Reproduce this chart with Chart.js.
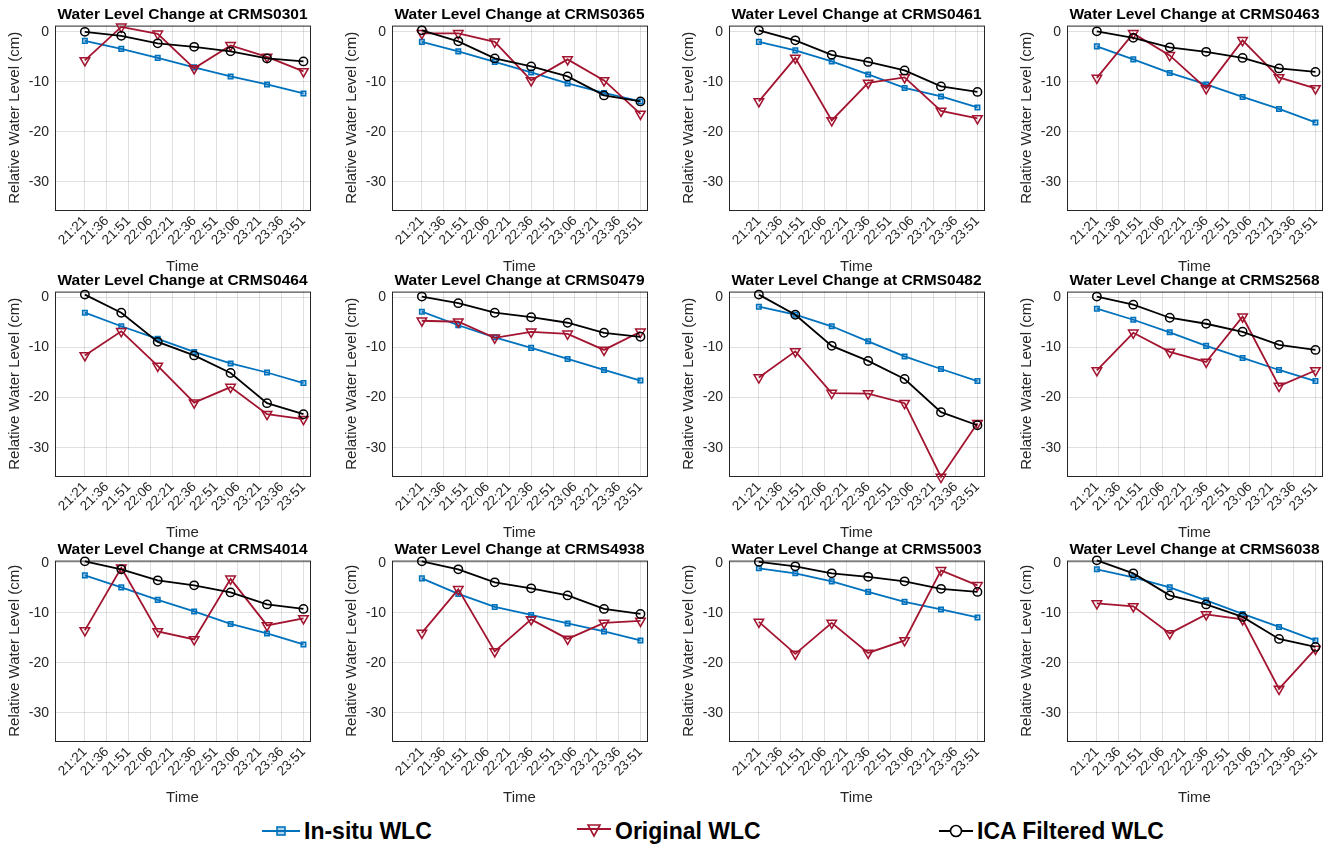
<!DOCTYPE html>
<html lang="en">
<head>
<meta charset="UTF-8">
<title>Water Level Change at CRMS stations</title>
<script src="https://cdn.jsdelivr.net/npm/chart.js@4.4.0/dist/chart.umd.min.js"></script>
<style>
    body { margin: 0; background: #fff; font-family: "Liberation Sans", Arial, sans-serif; }
    #page { position: relative; width: 1329px; height: 848px; overflow: hidden; background: #fff; }
    .panel { position: absolute; }
    .item { position: absolute; top: 815px; height: 32px; display: flex; align-items: center;
            font-weight: bold; font-size: 23px; color: #000; }
    .item svg { margin-right: 3px; }
</style>
</head>
<body>
<div id="page">
    <div class="item" style="left:261px">
        <svg width="40" height="20"><line x1="1" y1="10" x2="39" y2="10" stroke="#0072BD" stroke-width="2"/><rect x="16" y="6" width="8" height="8" fill="rgba(0,114,189,0.3)" stroke="#0072BD" stroke-width="1.6"/></svg>In-situ WLC
    </div>
    <div class="item" style="left:576px">
        <svg width="36" height="20"><line x1="1" y1="8" x2="35" y2="8" stroke="#A2142F" stroke-width="2"/><polygon points="12,4 24,4 18,15" fill="none" stroke="#A2142F" stroke-width="1.6"/></svg>Original WLC
    </div>
    <div class="item" style="left:938px">
        <svg width="36" height="20"><line x1="1" y1="10" x2="35" y2="10" stroke="#000" stroke-width="2"/><circle cx="18" cy="10" r="5.5" fill="#fff" stroke="#000" stroke-width="1.6"/></svg>ICA Filtered WLC
    </div>
</div>
<script>
    const stations = ['CRMS0301', 'CRMS0365', 'CRMS0461', 'CRMS0463',
                      'CRMS0464', 'CRMS0479', 'CRMS0482', 'CRMS2568',
                      'CRMS4014', 'CRMS4938', 'CRMS5003', 'CRMS6038'];
    const xTickLabels = ['21:21', '21:36', '21:51', '22:06', '22:21', '22:36',
                         '22:51', '23:06', '23:21', '23:36', '23:51'];
    const sampleTimes = ['21:21', '21:46', '22:11', '22:36', '23:01', '23:26', '23:51'];
    const yTicks = [0, -10, -20, -30];

    // cm, one row per station
    const insituWLC = [
        [-1.8, -3.4, -5.2, -7.1, -8.9, -10.5, -12.3],
        [-2.0, -3.9, -6.0, -8.1, -10.3, -12.2, -13.9],
        [-2.0, -3.7, -5.9, -8.5, -11.2, -12.9, -15.1],
        [-2.9, -5.5, -8.2, -10.5, -13.0, -15.4, -18.1],
        [-3.1, -5.8, -8.3, -10.9, -13.2, -15.0, -17.1],
        [-2.9, -5.6, -8.0, -10.1, -12.3, -14.5, -16.6],
        [-1.9, -3.5, -5.8, -8.8, -11.8, -14.3, -16.7],
        [-2.3, -4.5, -7.0, -9.7, -12.1, -14.5, -16.7],
        [-2.5, -4.9, -7.4, -9.7, -12.2, -14.1, -16.3],
        [-3.1, -6.2, -8.8, -10.4, -12.1, -13.7, -15.5],
        [-1.1, -2.1, -3.7, -5.8, -7.8, -9.3, -10.9],
        [-1.3, -2.9, -4.9, -7.5, -10.2, -12.8, -15.5]
    ];
    const originalWLC = [
        [-5.7, 1.0, -0.4, -7.3, -2.7, -5.0, -7.9],
        [-0.3, -0.3, -2.0, -9.7, -5.5, -9.7, -16.4],
        [-13.9, -5.2, -17.7, -10.2, -9.1, -15.8, -17.3],
        [-9.2, -0.3, -4.7, -11.3, -1.7, -9.1, -11.3],
        [-11.6, -6.8, -13.7, -21.0, -17.9, -23.3, -24.3],
        [-4.7, -4.9, -8.1, -6.9, -7.3, -10.5, -6.9],
        [-16.0, -10.8, -19.1, -19.2, -21.1, -35.8, -25.1],
        [-14.6, -7.1, -10.9, -12.9, -3.9, -17.7, -14.6],
        [-13.5, -1.0, -13.7, -15.3, -3.2, -12.5, -11.1],
        [-14.0, -5.3, -17.7, -11.3, -15.2, -12.0, -11.6],
        [-11.8, -18.2, -12.0, -18.0, -15.5, -1.5, -4.5],
        [-8.1, -8.7, -14.1, -10.3, -11.3, -25.2, -17.2]
    ];
    const icaWLC = [
        [0.0, -0.8, -2.3, -3.0, -3.9, -5.3, -5.9],
        [0.3, -1.9, -5.3, -6.9, -8.9, -12.7, -13.9],
        [0.3, -1.7, -4.6, -6.0, -7.7, -10.9, -12.0],
        [0.1, -1.2, -3.1, -4.0, -5.2, -7.3, -8.0],
        [0.5, -3.1, -8.9, -11.6, -15.1, -21.1, -23.3],
        [0.1, -1.2, -3.1, -4.0, -5.1, -7.1, -7.9],
        [0.5, -3.5, -9.7, -12.7, -16.3, -22.9, -25.5],
        [0.1, -1.5, -4.1, -5.3, -6.9, -9.5, -10.5],
        [0.3, -1.3, -3.5, -4.5, -5.9, -8.3, -9.2],
        [0.3, -1.3, -3.9, -5.1, -6.5, -9.2, -10.2],
        [0.2, -0.7, -2.1, -2.8, -3.7, -5.2, -5.8],
        [0.5, -2.1, -6.5, -8.3, -10.8, -15.2, -16.8]
    ];

    // axes placement on the page
    const colLeft = [55, 392, 729, 1067];
    const rowTop = [26, 292, 561];
    const rowYMax = [1.25, 1.1, 0.45];
    const yMin = -35.6, xMin = -20.5, xMax = 154.5;
    const plotW = 255, pxPerCm = 5;
    const FONT = '"Liberation Sans", Arial, sans-serif';
    const gridColor = 'rgba(38,38,38,0.14)';

    function toMin(t) {
        const [h, m] = t.split(':').map(Number);
        return h * 60 + m - (21 * 60 + 21);
    }

    function series(label, values, color, style, radius, rotation, fill, order) {
        return {
            label: label,
            data: sampleTimes.map((t, k) => ({ x: toMin(t), y: values[k] })),
            borderColor: color,
            borderWidth: 1.8,
            pointStyle: style,
            pointRadius: radius,
            pointRotation: rotation,
            pointBorderColor: color,
            pointBackgroundColor: fill,
            pointBorderWidth: 1.5,
            tension: 0,
            clip: false,
            order: order
        };
    }

    // full axes box like matlab
    const boxPlugin = {
        id: 'box',
        beforeDatasetsDraw(chart) {
            const a = chart.chartArea, ctx = chart.ctx;
            ctx.save();
            ctx.strokeStyle = '#262626';
            ctx.lineWidth = 1;
            ctx.strokeRect(a.left + 0.5, a.top + 0.5, a.right - a.left, a.bottom - a.top);
            ctx.restore();
        }
    };

    const page = document.getElementById('page');

    stations.forEach((name, i) => {
        const r = Math.floor(i / 4), c = i % 4;
        const yMax = rowYMax[r];
        const plotH = Math.round((yMax - yMin) * pxPerCm);

        const div = document.createElement('div');
        div.className = 'panel';
        div.style.left = (colLeft[c] - 55) + 'px';
        div.style.top = (rowTop[r] - 26) + 'px';
        const canvas = document.createElement('canvas');
        canvas.width = 55 + plotW + 55;
        canvas.height = 26 + plotH + 66;
        div.appendChild(canvas);
        page.appendChild(div);

        new Chart(canvas, {
            type: 'line',
            data: {
                datasets: [
                    series('In-situ WLC', insituWLC[i], '#0072BD', 'rect', 3.2, 0, 'rgba(0,114,189,0.3)', 3),
                    series('Original WLC', originalWLC[i], '#A2142F', 'triangle', 5.5, 180, 'rgba(255,255,255,0)', 2),
                    series('ICA Filtered WLC', icaWLC[i], '#000000', 'circle', 4.2, 0, 'rgba(255,255,255,0)', 1)
                ]
            },
            options: {
                responsive: false,
                animation: false,
                layout: { padding: 0 },
                plugins: {
                    legend: { display: false },
                    tooltip: { enabled: false },
                    title: {
                        display: true,
                        text: 'Water Level Change at ' + name,
                        color: '#000',
                        font: { family: FONT, size: 15.5, weight: 'bold' },
                        padding: { top: 5, bottom: 2 }
                    }
                },
                scales: {
                    x: {
                        type: 'linear',
                        min: xMin,
                        max: xMax,
                        afterBuildTicks: s => { s.ticks = xTickLabels.map(t => ({ value: toMin(t) })); },
                        afterFit: s => { s.height = 66; s.paddingLeft = 0; s.paddingRight = 0; },
                        ticks: {
                            autoSkip: false,
                            minRotation: 45,
                            maxRotation: 45,
                            padding: 3,
                            color: '#262626',
                            font: { family: FONT, size: 13.5 },
                            callback: v => xTickLabels.find(t => toMin(t) === v) || ''
                        },
                        grid: { color: gridColor, drawTicks: false },
                        border: { display: false },
                        title: {
                            display: true,
                            text: 'Time',
                            color: '#262626',
                            font: { family: FONT, size: 15 },
                            padding: { top: 0, bottom: 0 }
                        }
                    },
                    y: {
                        min: yMin,
                        max: yMax,
                        afterBuildTicks: s => { s.ticks = yTicks.map(v => ({ value: v })); },
                        afterFit: s => { s.width = 55; s.paddingTop = 0; s.paddingBottom = 0; },
                        ticks: {
                            padding: 6,
                            color: '#262626',
                            font: { family: FONT, size: 14 }
                        },
                        grid: { color: gridColor, drawTicks: false },
                        border: { display: false },
                        title: {
                            display: true,
                            text: 'Relative Water Level (cm)',
                            color: '#262626',
                            font: { family: FONT, size: 15 },
                            padding: { top: 6, bottom: 0 }
                        }
                    },
                    // empty right box so the title centres over the axes
                    yPad: {
                        position: 'right',
                        grid: { display: false },
                        ticks: { display: false },
                        border: { display: false },
                        afterFit: s => { s.width = 55; s.paddingTop = 0; s.paddingBottom = 0; }
                    }
                }
            },
            plugins: [boxPlugin]
        });
    });
</script>
</body>
</html>
